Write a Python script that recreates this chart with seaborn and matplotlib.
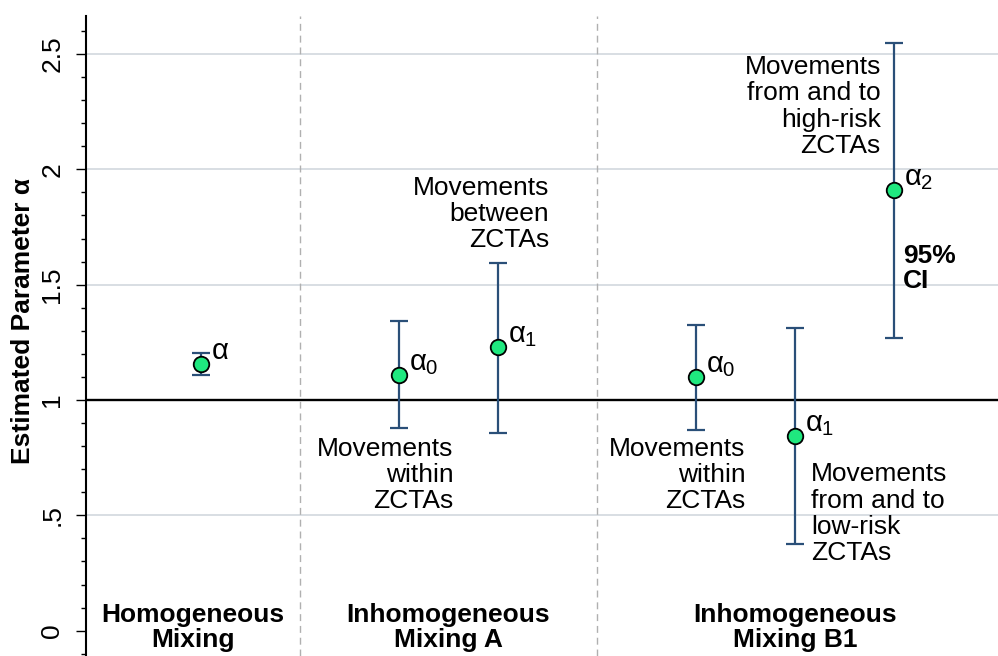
import matplotlib
matplotlib.use("Agg")
import matplotlib.pyplot as plt
import seaborn as sns
import pandas as pd
from matplotlib.ticker import MultipleLocator, FixedLocator, FixedFormatter

# ---------------- data ----------------
groups = ["Homogeneous\nMixing", "Inhomogeneous\nMixing A", "Inhomogeneous\nMixing B1"]
param_group = [0, 1, 1, 2, 2, 2]
param_names = [r"$\alpha$", r"$\alpha_0$", r"$\alpha_1$", r"$\alpha_0$", r"$\alpha_1$", r"$\alpha_2$"]
estimate = [1.155, 1.108, 1.229, 1.098, 0.845, 1.909]
ci_low = [1.107, 0.877, 0.857, 0.870, 0.376, 1.268]
ci_high = [1.205, 1.343, 1.595, 1.327, 1.313, 2.549]
descriptions = ["", "Movements\nwithin\nZCTAs", "Movements\nbetween\nZCTAs",
                "Movements\nwithin\nZCTAs", "Movements\nfrom and to\nlow-risk\nZCTAs",
                "Movements\nfrom and to\nhigh-risk\nZCTAs"]
ytick_vals = [0, 0.5, 1, 1.5, 2, 2.5]
ytick_labels = ["0", ".5", "1", "1.5", "2", "2.5"]
ylabel = "Estimated Parameter α"
ci_note = "95%\nCI"

# ---------------- layout: slots with a separator between groups ----------------
positions, separators, group_centers = [], [], []
slot = 1
for g in range(len(groups)):
    members = [i for i, pg in enumerate(param_group) if pg == g]
    start = slot
    for i in members:
        positions.append(slot)
        slot += 1
    group_centers.append((start + slot - 1) / 2)
    if g < len(groups) - 1:
        separators.append(slot)
        slot += 1

df = pd.DataFrame({"x": positions, "est": estimate, "lo": ci_low, "hi": ci_high})

# ---------------- style ----------------
sns.set_style("ticks")
plt.rcParams["font.family"] = ["Liberation Sans", "DejaVu Sans"]
plt.rcParams["mathtext.fontset"] = "custom"
plt.rcParams["mathtext.rm"] = "Liberation Sans"
plt.rcParams["mathtext.it"] = "Liberation Sans"
plt.rcParams["mathtext.bf"] = "Liberation Sans:bold"
for k in ["text.color", "axes.labelcolor", "xtick.color", "ytick.color", "axes.edgecolor"]:
    plt.rcParams[k] = "black"

FS = 19
NAVY = "#2a4f78"
GREEN = "#1fe87f"

fig = plt.figure(figsize=(9.98, 6.56), dpi=100)
ax = fig.add_axes([86 / 998, 0, 1 - 86 / 998, 1 - 16 / 656])

ax.set_xlim(-0.16, 9.05)
ax.set_ylim(-0.11, 2.665)

# grid
ax.yaxis.set_major_locator(FixedLocator(ytick_vals))
ax.yaxis.set_major_formatter(FixedFormatter(ytick_labels))
ax.yaxis.set_minor_locator(MultipleLocator(0.1))
ax.yaxis.grid(True, color="#d6dbe0", lw=1.3, zorder=0)
ax.set_axisbelow(True)
for gl, v in zip(ax.get_ygridlines(), ytick_vals):
    if v in (0, 1):
        gl.set_visible(False)

# reference line at 1 and separators
ax.axhline(1, color="black", lw=1.7, zorder=1)
for s in separators:
    ax.axvline(s, color="#b0b0b0", lw=1.0, ls=(0, (5, 3.5)), zorder=1)

# CIs and points
ax.errorbar(df["x"], df["est"], yerr=[df["est"] - df["lo"], df["hi"] - df["est"]],
            fmt="none", ecolor=NAVY, elinewidth=1.6, capsize=6.5, capthick=1.6, zorder=2)
sns.scatterplot(data=df, x="x", y="est", ax=ax, s=125, color=GREEN,
                edgecolor="black", linewidth=1.3, zorder=3, legend=False)

# parameter labels
for x, y, name in zip(positions, estimate, param_names):
    ax.annotate(name, (x, y), xytext=(7.5, 3.5), textcoords="offset points",
                ha="left", va="baseline", fontsize=FS + 2)

# descriptions
desc_style = [None,
              dict(dx=0.55, y="top", yv=0.84, ha="right"),
              dict(dx=0.515, y="bottom", yv=1.64, ha="right"),
              dict(dx=0.50, y="top", yv=0.84, ha="right"),
              dict(dx=0.16, y="top", yv=0.73, ha="left"),
              dict(dx=-0.134, y="bottom", yv=2.05, ha="right")]
for x, txt, st in zip(positions, descriptions, desc_style):
    if not txt:
        continue
    ax.text(x + st["dx"], st["yv"], txt, ha=st["ha"], va=st["y"], fontsize=FS,
            linespacing=1.12, multialignment=st["ha"])

ax.text(positions[-1] + 0.09, 1.675, ci_note, ha="left", va="top", fontsize=FS,
        fontweight="bold", linespacing=1.05)

# group labels
for gc, gname in zip(group_centers, groups):
    cx = gc if gc > 1 else (ax.get_xlim()[0] + separators[0]) / 2
    ax.text(cx, 0.118, gname, ha="center", va="top", fontsize=FS, fontweight="bold",
            linespacing=1.05)

# axes styling
sns.despine(ax=ax, top=True, right=True, bottom=True)
ax.spines["left"].set_linewidth(1.5)
ax.set_xticks([])
ax.set_xlabel("")
ax.tick_params(axis="y", which="major", length=7.2, width=1.0, pad=8.5, labelsize=FS)
ax.tick_params(axis="y", which="minor", length=3.6, width=1.0)
for lab in ax.get_yticklabels():
    lab.set_rotation(90)
    lab.set_va("center")
ax.set_ylabel(ylabel, fontsize=FS, fontweight="bold", va="center")
ax.yaxis.set_label_coords((22.5 - 86) / 912, 0.523)

fig.savefig("out.png", dpi=100)
